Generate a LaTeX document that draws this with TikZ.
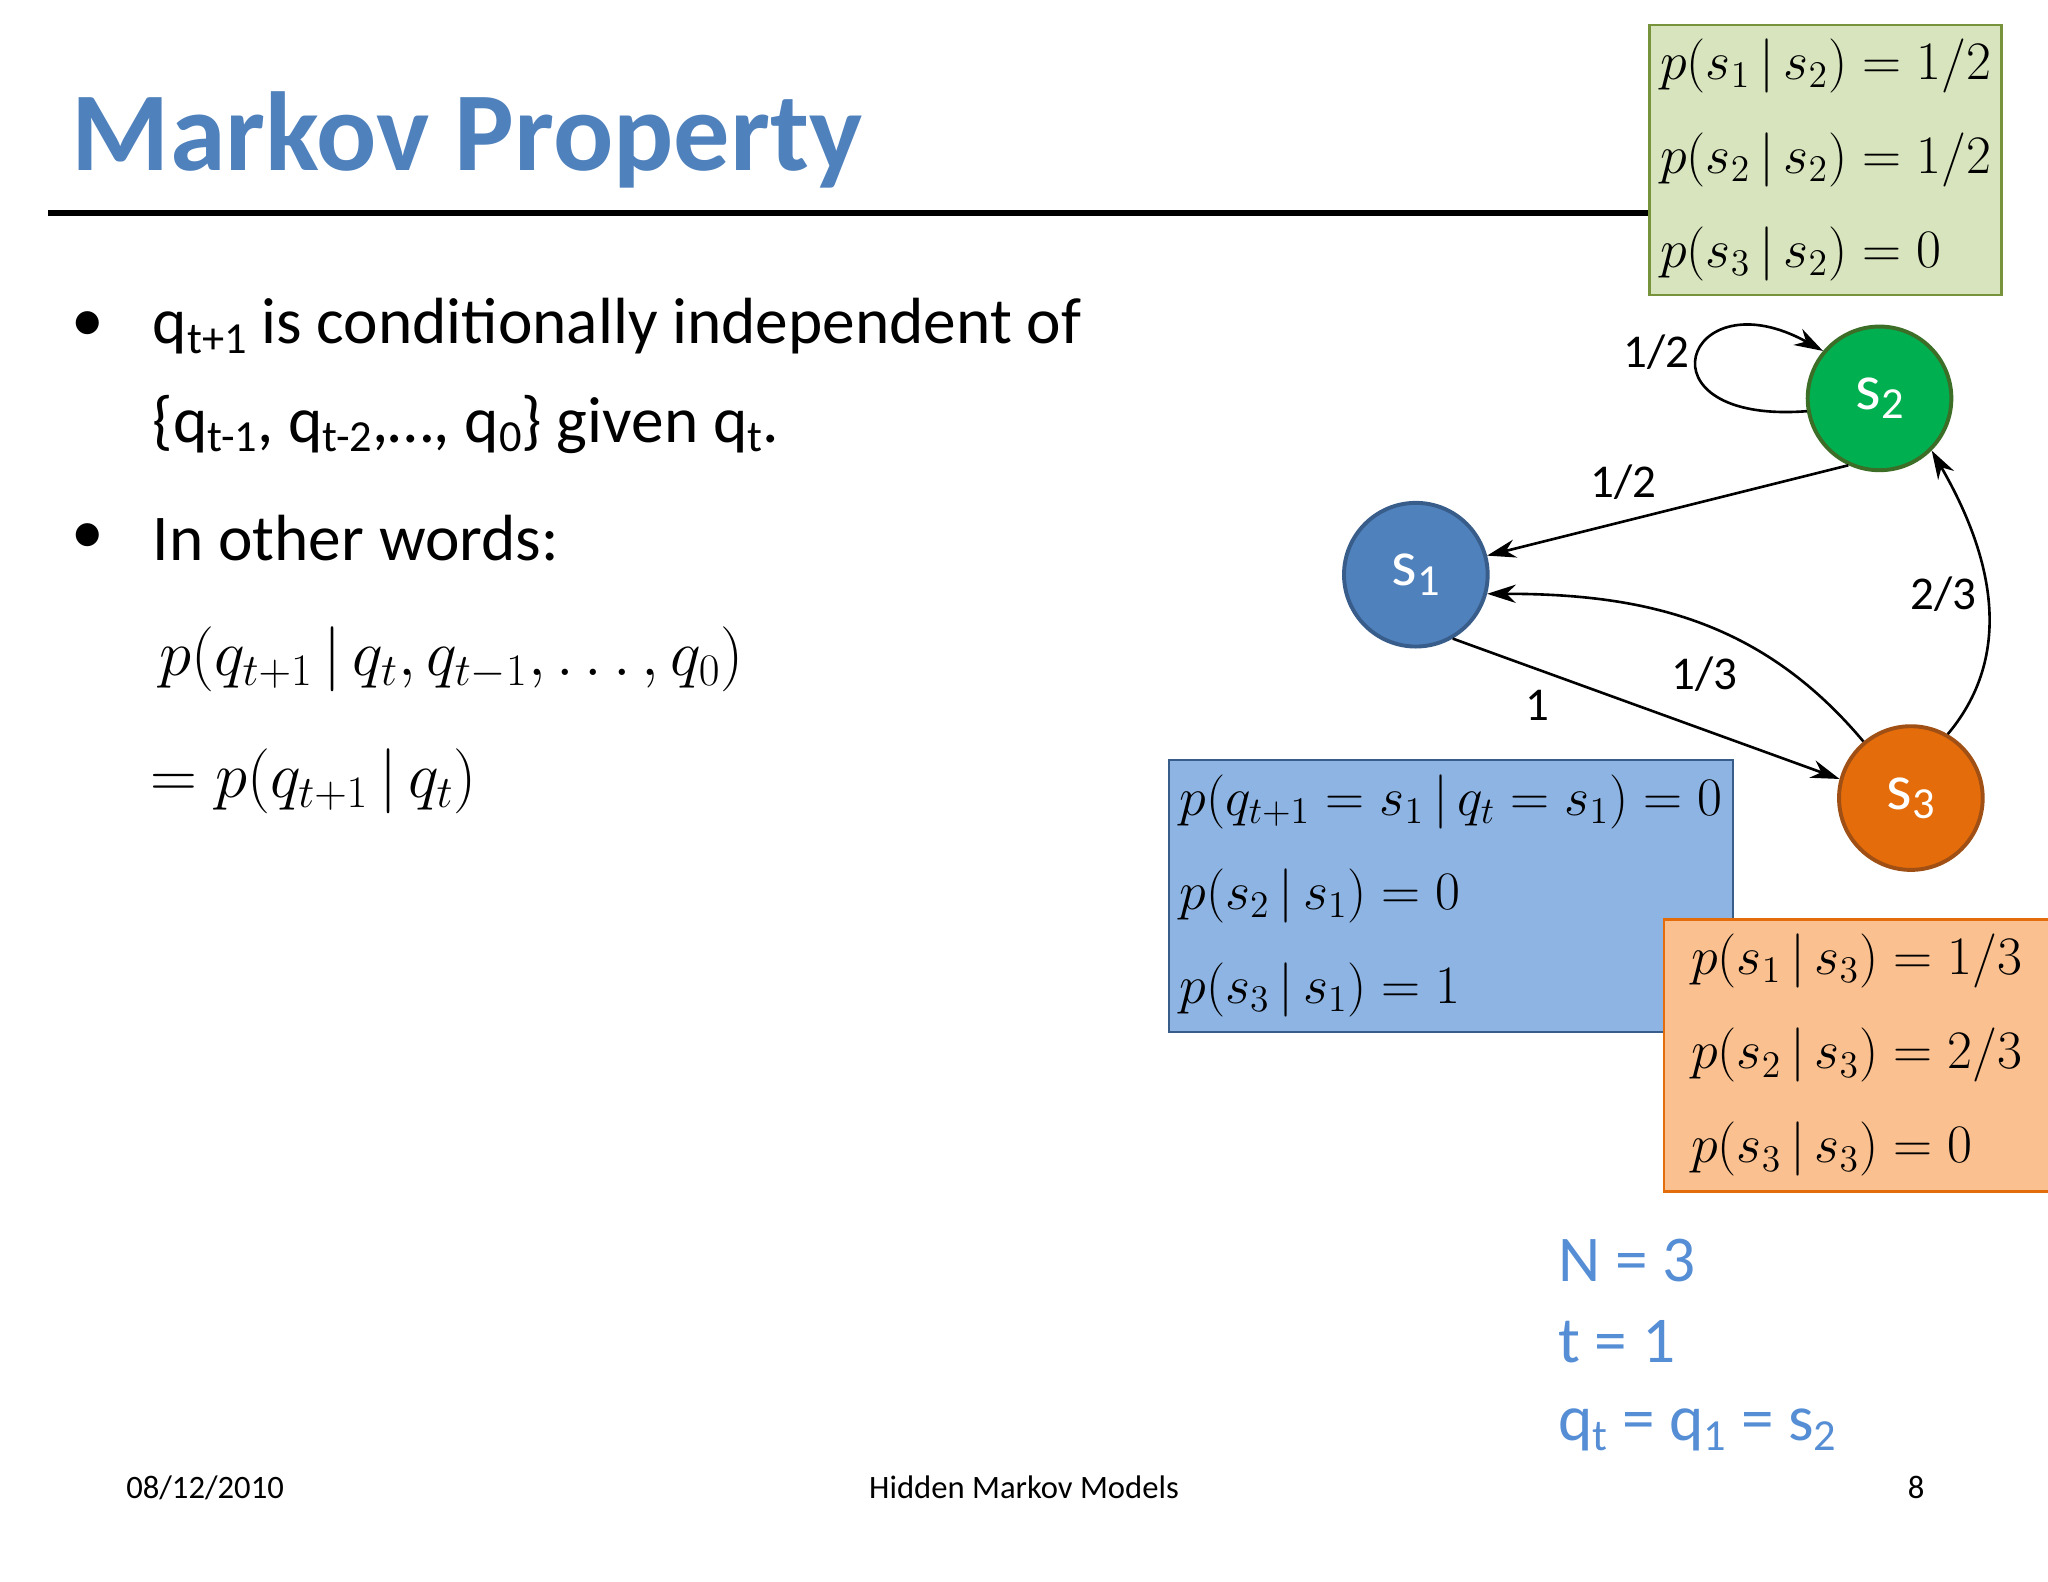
\documentclass[tikz,border=0pt]{standalone}
\usepackage{fontspec}
\setmainfont{Carlito}
\usetikzlibrary{arrows.meta}
\newcommand{\sub}[1]{\raisebox{-0.3ex}{\fontsize{17}{20}\selectfont #1}}
\begin{document}
\begin{tikzpicture}[x=0.5pt,y=-0.5pt,
  st/.style={circle,minimum size=110*0.5pt,inner sep=0pt,line width=1.5pt,text=white,font=\fontsize{25}{28}\selectfont},
  arr/.style={-{Stealth[length=11pt,width=7pt]},line width=1pt},
  lab/.style={font=\fontsize{18}{20}\selectfont},
  body/.style={font=\fontsize{25}{30}\selectfont,anchor=west},
  mbox/.style={anchor=north west,align=left,font=\fontsize{21}{36}\selectfont,inner sep=4pt,line width=1pt}]
\useasboundingbox (0,0) rectangle (1568,1211);
\fill[white] (0,0) rectangle (1568,1211);
\node[anchor=west,font=\bfseries\fontsize{43}{48}\selectfont,text={rgb,255:red,79;green,129;blue,189}] (title) at (48,107) {Markov Property};
\draw[line width=2pt] (37,163) -- (1262,163);
\node[body] (b1) at (48,250) {•};
\node[body] (l1) at (110,250) {q\sub{t+1} is conditionally independent of};
\node[body] (l2) at (110,325) {\{q\sub{t-1}, q\sub{t-2},…, q\sub{0}\} given q\sub{t}.};
\node[body] (b2) at (48,412) {•};
\node[body] (l3) at (110,412) {In other words:};
\node[body,font=\fontsize{27}{30}\selectfont] (e1) at (115,505) {$p\big(q_{t+1}\,|\,q_t,q_{t-1},\ldots,q_0\big)$};
\node[body,font=\fontsize{27}{30}\selectfont] (e2) at (108,598) {$=p\big(q_{t+1}\,|\,q_t\big)$};
% boxes
\node[mbox,fill={rgb,255:red,215;green,228;blue,189},draw={rgb,255:red,119;green,147;blue,60},minimum width=269*0.5pt,minimum height=207*0.5pt] (g) at (1262,18)
 {$p\big(s_1\,|\,s_2\big)=1/2$\\ $p\big(s_2\,|\,s_2\big)=1/2$\\ $p\big(s_3\,|\,s_2\big)=0$};
\node[mbox,fill={rgb,255:red,142;green,180;blue,227},draw={rgb,255:red,56;green,93;blue,138},minimum width=404*0.5pt,minimum height=208*0.5pt] (bl) at (894,581)
 {$p\big(q_{t+1}=s_1\,|\,q_t=s_1\big)=0$\\ $p\big(s_2\,|\,s_1\big)=0$\\ $p\big(s_3\,|\,s_1\big)=1$};
\node[mbox,fill={rgb,255:red,250;green,192;blue,144},draw={rgb,255:red,228;green,108;blue,10},minimum width=295*0.5pt,minimum height=208*0.5pt,inner xsep=10pt] (or) at (1273,703)
 {$p\big(s_1\,|\,s_3\big)=1/3$\\ $p\big(s_2\,|\,s_3\big)=2/3$\\ $p\big(s_3\,|\,s_3\big)=0$};
% states
\node[st,fill={rgb,255:red,79;green,129;blue,189},draw={rgb,255:red,56;green,93;blue,138}] (s1) at (1084,440) {s\sub{1}};
\node[st,fill={rgb,255:red,0;green,176;blue,80},draw={rgb,255:red,60;green,110;blue,40}] (s2) at (1439,305) {s\sub{2}};
\node[st,fill={rgb,255:red,228;green,108;blue,10},draw={rgb,255:red,160;green,80;blue,20}] (s3) at (1463,611) {s\sub{3}};
% edges
\draw[arr] (s2.-115) -- (s1.15);
\draw[arr] (s1.-60) -- (s3.165);
\draw[arr] (s3.130) to[out=130,in=0] (s1.-15);
\draw[arr] (s3.60) to[out=50,in=-60] (s2.-45);
\draw[arr] (s2.190) .. controls (1250,325) and (1290,210) .. (s2.140);
\node[lab] (a1) at (1268,270) {1/2};
\node[lab] (a2) at (1243,369) {1/2};
\node[lab] (a3) at (1488,455) {2/3};
\node[lab] (a4) at (1305,516) {1/3};
\node[lab] (a5) at (1177,540) {1};
\begin{scope}[every node/.style={anchor=west,font=\fontsize{25}{28}\selectfont,text={rgb,255:red,85;green,142;blue,213}}]
\node (n1) at (1186,965) {N = 3};
\node (n2) at (1186,1027) {t = 1};
\node (n3) at (1186,1095) {q\sub{t} = q\sub{1} = s\sub{2}};
\end{scope}
\node[font=\fontsize{12.5}{14}\selectfont] (f1) at (157,1139) {08/12/2010};
\node[font=\fontsize{12.5}{14}\selectfont] (f2) at (784,1139) {Hidden Markov Models};
\node[font=\fontsize{12.5}{14}\selectfont] (f3) at (1467,1139) {8};
\end{tikzpicture}
\end{document}
